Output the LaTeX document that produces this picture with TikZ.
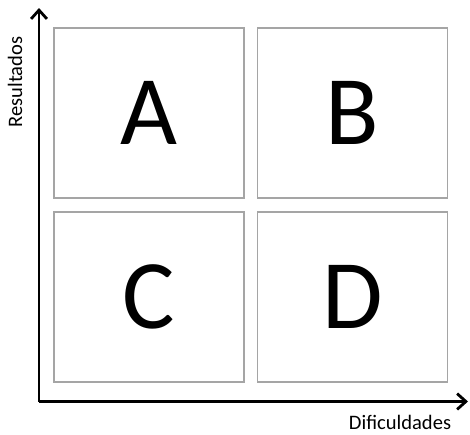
\documentclass[tikz,border=0pt]{standalone}
\usepackage{fontspec}
\setmainfont{Carlito}
\usepackage{xcolor}
\usetikzlibrary{arrows.meta}

\definecolor{boxgray}{RGB}{165,165,165}

\begin{document}
\begin{tikzpicture}[x=0.02cm,y=-0.02cm,>={Straight Barb[length=5pt,width=9pt,line width=1.6pt]}]
  \useasboundingbox (0,0) rectangle (470,434);
  \tikzset{quad/.style={draw=boxgray,line width=0.9pt,minimum width=190*0.02cm,
      minimum height=170*0.02cm,inner sep=0pt,font=\fontsize{56}{60}\selectfont}}
  % the four quadrants
  \node[quad] (qa) at (149,113) {A};
  \node[quad] (qb) at (352.5,113) {B};
  \node[quad] (qc) at (149,297) {C};
  \node[quad] (qd) at (352.5,297) {D};
  % axes
  \coordinate (orig) at (39,401.5);
  \coordinate (ytop) at (39,8);
  \coordinate (xend) at (468,401.5);
  \draw[line width=1.7pt,->] (orig) -- (ytop);
  \draw[line width=1.7pt,->] (orig) -- (xend);
  \node[rotate=90,font=\fontsize{11.7}{14}\selectfont] (ylab) at (15,82) {Resultados};
  \node[font=\fontsize{11.7}{14}\selectfont] (xlab) at (400,422) {Dificuldades};
\end{tikzpicture}
\end{document}
